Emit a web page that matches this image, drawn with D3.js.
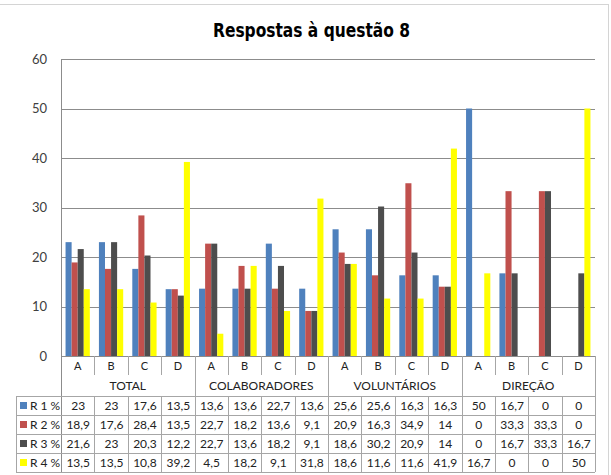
<!DOCTYPE html>
<html>
<head>
<meta charset="utf-8">
<script src="https://cdn.jsdelivr.net/npm/d3@7"></script>
<style>
  body { margin: 0; background: #fff; }
  svg { display: block; }
</style>
</head>
<body>
<svg id="chart"></svg>
<script>
// data
var groups = ['TOTAL', 'COLABORADORES', 'VOLUNTÁRIOS', 'DIREÇÃO'];
var letters = ['A', 'B', 'C', 'D'];
var seriesNames = ['R 1 %', 'R 2 %', 'R 3 %', 'R 4 %'];
var r1 = [23, 23, 17.6, 13.5, 13.6, 13.6, 22.7, 13.6, 25.6, 25.6, 16.3, 16.3, 50, 16.7, 0, 0];
var r2 = [18.9, 17.6, 28.4, 13.5, 22.7, 18.2, 13.6, 9.1, 20.9, 16.3, 34.9, 14, 0, 33.3, 33.3, 0];
var r3 = [21.6, 23, 20.3, 12.2, 22.7, 13.6, 18.2, 9.1, 18.6, 30.2, 20.9, 14, 0, 16.7, 33.3, 16.7];
var r4 = [13.5, 13.5, 10.8, 39.2, 4.5, 18.2, 9.1, 31.8, 18.6, 11.6, 11.6, 41.9, 16.7, 0, 0, 50];
var yTicks = [0, 10, 20, 30, 40, 50, 60];

var colors = ['#4f81bd', '#c0504d', '#4d4d4d', '#ffff00'];
var series = [r1, r2, r3, r4];

var svg_width = 611, svg_height = 475;
var plot_left = 61, plot_right = 595, plot_top = 59, plot_bottom = 356;
var table_left = 16;
var row_letters = 375, row_groups = 396, row_h = 19;
var font = 'Lato, "Open Sans", sans-serif';
var grid_color = '#8c8c8c', table_color = '#a6a6a6';

var svg = d3.select('#chart')
  .attr('width', svg_width)
  .attr('height', svg_height);

// outer frame
svg.append('rect')
  .attr('x', -2).attr('y', 4.5)
  .attr('width', 610.5).attr('height', 480)
  .attr('fill', 'none')
  .attr('stroke', '#d4d4d4');

// category keys: one per group/letter pair
var keys = [];
groups.forEach(function(g) {
  letters.forEach(function(l) { keys.push(g + '|' + l); });
});

var x = d3.scaleBand().domain(keys).range([plot_left, plot_right]);
// excel gap width 150%: bars use 4 / 5.5 of a category
var xInner = d3.scaleBand().domain(d3.range(4))
  .range([0, x.bandwidth()])
  .paddingInner(0)
  .paddingOuter(0.75);
var y = d3.scaleLinear().domain([0, 60]).range([plot_bottom, plot_top]);

// title (condensed face squeezed to the reference width)
svg.append('text')
  .attr('x', 213).attr('y', 37)
  .attr('textLength', 197)
  .attr('lengthAdjust', 'spacingAndGlyphs')
  .style('font-family', '"DejaVu Sans Condensed", "DejaVu Sans", sans-serif')
  .style('font-weight', 'bold')
  .style('font-size', '20px')
  .attr('fill', '#000')
  .text('Respostas à questão 8');

// gridlines
svg.append('g')
  .selectAll('line')
  .data(yTicks.filter(function(t) { return t > 0; }))
  .enter()
  .append('line')
  .attr('x1', plot_left).attr('x2', plot_right)
  .attr('y1', function(d) { return Math.round(y(d)) + 0.5; })
  .attr('y2', function(d) { return Math.round(y(d)) + 0.5; })
  .attr('stroke', grid_color);

// y axis labels
var yAxis = d3.axisLeft(y).tickValues(yTicks).tickSize(0).tickPadding(14);
var yg = svg.append('g')
  .attr('transform', 'translate(' + plot_left + ',0)')
  .call(yAxis);
yg.select('.domain').remove();
yg.selectAll('text')
  .style('font-family', font)
  .style('font-size', '13px')
  .attr('fill', '#404040');

// bars
var bars = svg.append('g');
series.forEach(function(vals, si) {
  bars.selectAll('.bar' + si)
    .data(vals)
    .enter()
    .append('rect')
    .attr('class', 'bar' + si)
    .attr('x', function(d, i) { return x(keys[i]) + xInner(si); })
    .attr('width', xInner.bandwidth())
    .attr('y', function(d) { return y(d); })
    .attr('height', function(d) { return y(0) - y(d); })
    .attr('fill', colors[si]);
});

// table lines
var tbl = svg.append('g')
  .attr('stroke', table_color)
  .attr('fill', 'none');

var table_bottom = row_groups + row_h * 4;

// left axis line runs down through category rows
tbl.append('line')
  .attr('x1', plot_left + 0.5).attr('x2', plot_left + 0.5)
  .attr('y1', plot_top).attr('y2', table_bottom)
  .attr('stroke', grid_color);

// zero line
tbl.append('line')
  .attr('x1', plot_left).attr('x2', plot_right)
  .attr('y1', plot_bottom + 0.5).attr('y2', plot_bottom + 0.5)
  .attr('stroke', grid_color);

// column separators
keys.forEach(function(k, i) {
  var xx = Math.round(x(k) + x.bandwidth()) + 0.5;
  var groupEnd = (i % 4 === 3);
  tbl.append('line')
    .attr('x1', xx).attr('x2', xx)
    .attr('y1', plot_bottom)
    .attr('y2', groupEnd ? table_bottom : row_letters);
  if (!groupEnd) {
    tbl.append('line')
      .attr('x1', xx).attr('x2', xx)
      .attr('y1', row_groups).attr('y2', table_bottom);
  }
});

// data row horizontal lines
d3.range(5).forEach(function(r) {
  var yy = row_groups + r * row_h + 0.5;
  tbl.append('line')
    .attr('x1', table_left).attr('x2', plot_right)
    .attr('y1', yy).attr('y2', yy);
});
tbl.append('line')
  .attr('x1', table_left + 0.5).attr('x2', table_left + 0.5)
  .attr('y1', row_groups).attr('y2', table_bottom);

// letters
svg.append('g')
  .selectAll('text')
  .data(keys)
  .enter()
  .append('text')
  .attr('x', function(d) { return x(d) + x.bandwidth() / 2; })
  .attr('y', plot_bottom + 14)
  .attr('text-anchor', 'middle')
  .style('font-family', font)
  .style('font-size', '11px')
  .attr('fill', '#222')
  .text(function(d) { return d.split('|')[1]; });

// group names
svg.append('g')
  .selectAll('text')
  .data(groups)
  .enter()
  .append('text')
  .attr('x', function(g) { return (x(g + '|A') + x(g + '|D') + x.bandwidth()) / 2; })
  .attr('y', row_letters + 15)
  .attr('text-anchor', 'middle')
  .style('font-family', font)
  .style('font-size', '12px')
  .attr('fill', '#222')
  .text(function(g) { return g; });

// legend keys + values
series.forEach(function(vals, si) {
  var ry = row_groups + si * row_h;
  svg.append('rect')
    .attr('x', 20).attr('y', ry + 6)
    .attr('width', 7).attr('height', 7)
    .attr('fill', colors[si]);
  svg.append('text')
    .attr('x', 30).attr('y', ry + 14)
    .style('font-family', font)
    .style('font-size', '12px')
    .attr('fill', '#222')
    .text(seriesNames[si]);
  svg.append('g')
    .selectAll('text')
    .data(vals)
    .enter()
    .append('text')
    .attr('x', function(d, i) { return x(keys[i]) + x.bandwidth() / 2 + 0.5; })
    .attr('y', ry + 14)
    .attr('text-anchor', 'middle')
    .style('font-family', font)
    .style('font-size', '12px')
    .attr('fill', '#222')
    .text(function(d) { return String(d).replace('.', ','); });
});
</script>
</body>
</html>
